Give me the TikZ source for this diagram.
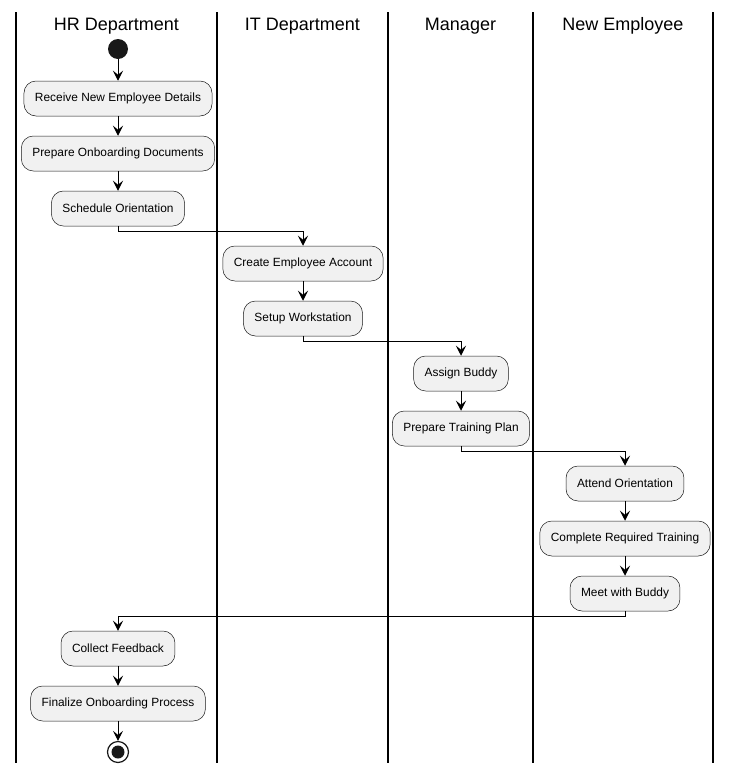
\documentclass[tikz,border=0pt]{standalone}
\usepackage{fontspec}
\setmainfont{Liberation Sans}
\usetikzlibrary{arrows.meta}
\definecolor{boxfill}{HTML}{F1F1F1}
\definecolor{boxline}{HTML}{181818}
\begin{document}
\begin{tikzpicture}[x=1pt,y=-1pt,
  lane/.style={line width=1.6pt,black},
  title/.style={font=\fontsize{18}{20}\selectfont},
  act/.style={draw=boxline,line width=0.5pt,fill=boxfill,rounded corners=12pt,
    minimum height=35pt,inner xsep=11pt,font=\fontsize{11.9}{13}\selectfont},
  arr/.style={line width=1pt,-{Stealth[length=10pt,width=10pt,inset=4pt]}},
  startnode/.style={circle,fill=boxline,minimum size=20pt,inner sep=0pt},
]
\useasboundingbox (0,0) rectangle (732,774);
% swimlanes
\foreach \x in {16,217,388,533,713} \draw[lane] (\x,12) -- (\x,763);
\node[title] (t1) at (116.5,26) {HR Department};
\node[title] (t2) at (302.5,26) {IT Department};
\node[title] (t3) at (460.5,26) {Manager};
\node[title] (t4) at (623,26) {New Employee};
% nodes
\node[startnode] (s) at (118,49) {};
\node[act] (a1) at (118,98.5) {Receive New Employee Details};
\node[act] (a2) at (118,153.5) {Prepare Onboarding Documents};
\node[act] (a3) at (118,208.5) {Schedule Orientation};
\node[act] (a4) at (303,263.5) {Create Employee Account};
\node[act] (a5) at (303,318.5) {Setup Workstation};
\node[act] (a6) at (461,373.5) {Assign Buddy};
\node[act] (a7) at (461,428.5) {Prepare Training Plan};
\node[act] (a8) at (625,483.5) {Attend Orientation};
\node[act] (a9) at (625,538.5) {Complete Required Training};
\node[act] (a10) at (625,593.5) {Meet with Buddy};
\node[act] (a11) at (118,648.5) {Collect Feedback};
\node[act] (a12) at (118,703.5) {Finalize Onboarding Process};
\node[circle,draw=boxline,line width=1.2pt,fill=white,minimum size=21pt,inner sep=0pt] (e) at (118,752) {};
\node[circle,fill=boxline,minimum size=13pt,inner sep=0pt] (ei) at (e.center) {};
% connectors
\draw[arr] (s) -- (a1);
\draw[arr] (a1) -- (a2);
\draw[arr] (a2) -- (a3);
\draw[arr] (a3.south) -- ++(0,5) -| (a4.north);
\draw[arr] (a4) -- (a5);
\draw[arr] (a5.south) -- ++(0,5) -| (a6.north);
\draw[arr] (a6) -- (a7);
\draw[arr] (a7.south) -- ++(0,5) -| (a8.north);
\draw[arr] (a8) -- (a9);
\draw[arr] (a9) -- (a10);
\draw[arr] (a10.south) -- ++(0,5) -| (a11.north);
\draw[arr] (a11) -- (a12);
\draw[arr] (a12) -- (e);
\end{tikzpicture}
\end{document}
